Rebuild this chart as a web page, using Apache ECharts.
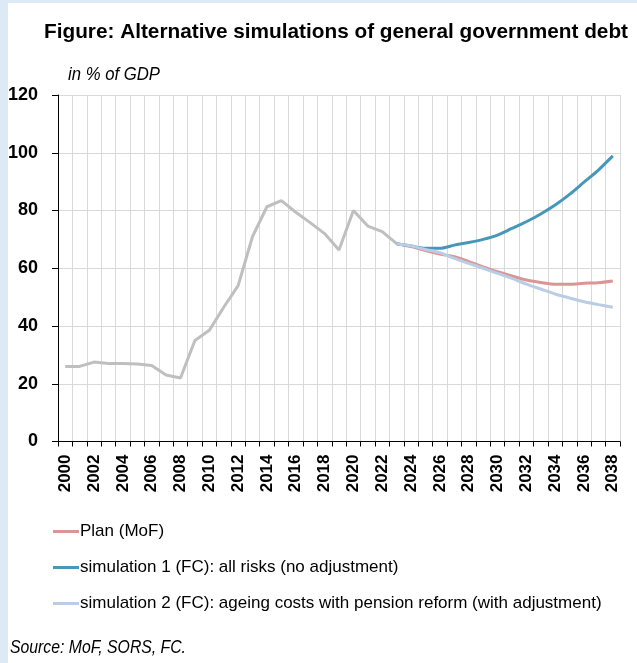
<!DOCTYPE html>
<html>
<head>
<meta charset="utf-8">
<script src="https://cdn.jsdelivr.net/npm/echarts@6/dist/echarts.min.js"></script>
<style>
  html, body { margin: 0; padding: 0; background: #ffffff; }
  #chart { width: 637px; height: 663px; }
</style>
</head>
<body>
<div id="chart"></div>
<script>
// Years on the category axis
const years = [];
for (let y = 2000; y <= 2038; y++) years.push(String(y));

// Historical general government debt, % of GDP (2000–2023)
const history = [26.0, 26.0, 27.5, 27.0, 27.0, 26.8, 26.3, 23.0, 22.0, 35.0,
                 38.5, 46.5, 54.0, 71.0, 81.3, 83.4, 79.4, 75.8, 72.0, 66.3,
                 80.0, 74.6, 72.7, 68.5];

// Projections 2023–2038
const planMoF = [68.5, 67.5, 66.1, 64.9, 64.0, 62.3, 60.5, 58.8, 57.3, 55.9,
                 55.1, 54.5, 54.5, 54.8, 55.0, 55.6];
const sim1 = [68.5, 67.7, 66.9, 66.9, 68.0, 68.9, 70.0, 71.5, 73.8, 76.1,
              78.8, 81.9, 85.6, 89.8, 94.0, 98.9];
const sim2 = [68.5, 67.7, 66.5, 65.4, 63.4, 61.7, 60.0, 58.2, 56.5, 54.5,
              52.8, 51.1, 49.7, 48.4, 47.4, 46.5];

const seriesNames = [
  'Plan (MoF)',
  'simulation 1 (FC): all risks (no adjustment)',
  'simulation 2 (FC): ageing costs with pension reform (with adjustment)'
];

const titleText = 'Figure: Alternative simulations of general government debt';
const unitText = 'in % of GDP';
const sourceText = 'Source: MoF, SORS, FC.';

// Pad a projection so it starts at 2023 on the shared axis
function fromYear(startIdx, values) {
  const out = new Array(years.length).fill(null);
  values.forEach((v, i) => { out[startIdx + i] = v; });
  return out;
}

const FONT = '"Liberation Sans", Arial, sans-serif';

// Horizontal squeeze that makes a string span a given width (narrow look)
const measureCtx = document.createElement('canvas').getContext('2d');
function squeeze(text, style, weight, size, width) {
  measureCtx.font = style + ' ' + weight + ' ' + size + 'px ' + FONT;
  return width / measureCtx.measureText(text).width;
}

// A narrowed free-standing text block, placed by its left edge and vertical middle
function narrowText(text, x, y, style, weight, size, width) {
  return {
    type: 'text', x: x, y: y, originX: 0, originY: 0,
    scaleX: squeeze(text, style, weight, size, width),
    style: {
      text: text, fontFamily: FONT, fontStyle: style, fontWeight: weight,
      fontSize: size, fill: '#000', verticalAlign: 'middle', align: 'left'
    },
    silent: true
  };
}

const projStart = years.indexOf('2023');

const chart = echarts.init(document.getElementById('chart'), null, { renderer: 'canvas' });

chart.setOption({
  backgroundColor: '#ffffff',
  animation: false,
  textStyle: { fontFamily: FONT, color: '#000' },
  graphic: [
    { type: 'rect', x: 0, y: 0, shape: { width: 8, height: 663 }, style: { fill: '#dde9f5' }, silent: true },
    { type: 'rect', x: 0, y: 0, shape: { width: 637, height: 3 }, style: { fill: '#dde9f5' }, silent: true },
    narrowText(titleText, 44, 32, 'normal', 'bold', 21, 584),
    narrowText(unitText, 68, 75, 'italic', 'normal', 18, 92),
    narrowText(sourceText, 10, 648, 'italic', 'normal', 18, 176)
  ],
  legend: {
    orient: 'vertical',
    left: 48, top: 518,
    itemGap: 19,
    itemWidth: 26, itemHeight: 3,
    icon: 'rect',
    data: seriesNames,
    textStyle: { fontFamily: FONT, fontSize: 17, color: '#000', padding: [0, 0, 0, -4] }
  },
  grid: { left: 58, right: 17, top: 95, bottom: 221.5, containLabel: false },
  xAxis: {
    type: 'category',
    data: years,
    boundaryGap: true,
    axisLine: { lineStyle: { color: '#000', width: 1 } },
    axisTick: { show: true, interval: 0, length: 5, lineStyle: { color: '#000' } },
    axisLabel: {
      interval: 1, rotate: 90, margin: 13,
      fontFamily: FONT, fontSize: 17, fontWeight: 'bold', color: '#000'
    },
    splitLine: { show: true, interval: 0, lineStyle: { color: '#d9d9d9', width: 1 } }
  },
  yAxis: {
    type: 'value',
    min: 0, max: 120, interval: 20,
    axisLine: { show: true, lineStyle: { color: '#000', width: 1 } },
    axisTick: { show: true, length: 6, lineStyle: { color: '#000' } },
    axisLabel: { margin: 20, fontFamily: FONT, fontSize: 18, fontWeight: 'bold', color: '#000' },
    splitLine: { show: true, lineStyle: { color: '#d9d9d9', width: 1 } }
  },
  series: [
    {
      name: 'history',
      type: 'line',
      data: history,
      symbol: 'none',
      lineStyle: { color: '#bfbfbf', width: 3 },
      itemStyle: { color: '#bfbfbf' },
      z: 2
    },
    {
      name: seriesNames[0],
      type: 'line',
      data: fromYear(projStart, planMoF),
      symbol: 'none', smooth: 0.3,
      lineStyle: { color: '#d99694', width: 3 },
      itemStyle: { color: '#d99694' },
      z: 3
    },
    {
      name: seriesNames[1],
      type: 'line',
      data: fromYear(projStart, sim1),
      symbol: 'none', smooth: 0.3,
      lineStyle: { color: '#4797b9', width: 3 },
      itemStyle: { color: '#4797b9' },
      z: 4
    },
    {
      name: seriesNames[2],
      type: 'line',
      data: fromYear(projStart, sim2),
      symbol: 'none', smooth: 0.3,
      lineStyle: { color: '#b9cde5', width: 3 },
      itemStyle: { color: '#b9cde5' },
      z: 5
    }
  ]
});
</script>
</body>
</html>
